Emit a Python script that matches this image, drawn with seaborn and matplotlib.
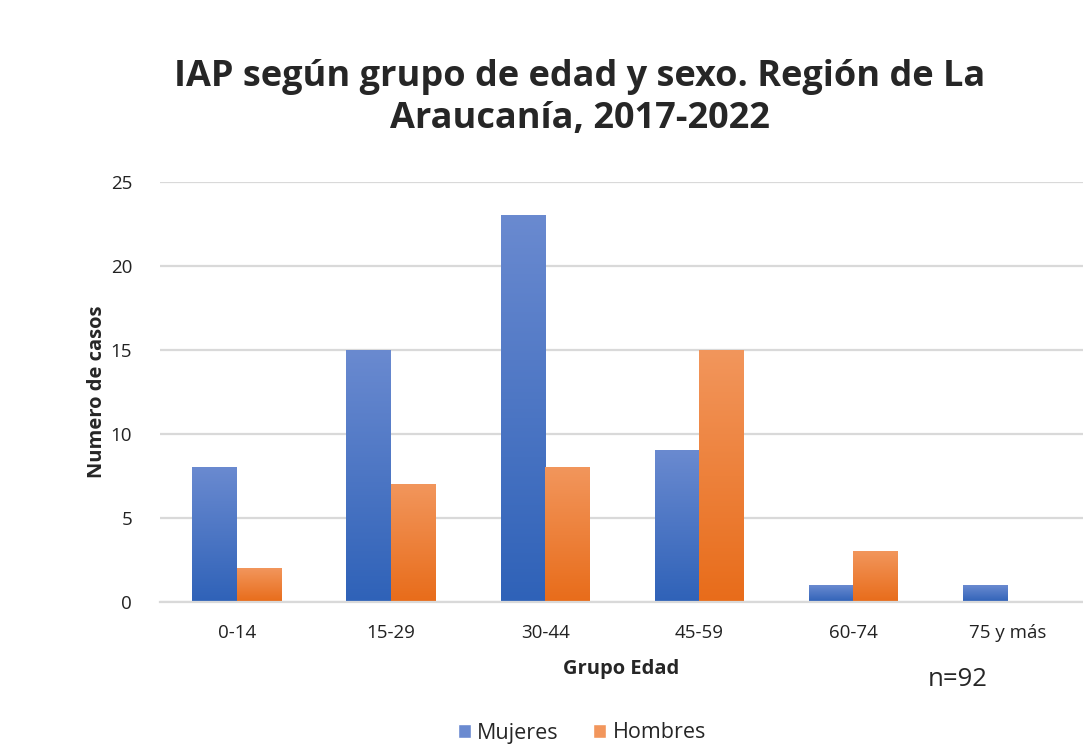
import numpy as np
import pandas as pd
import matplotlib
matplotlib.use("Agg")
import matplotlib.pyplot as plt
import matplotlib.colors as mcolors
from matplotlib.patches import Patch
import seaborn as sns

# datos
grupos = ["0-14", "15-29", "30-44", "45-59", "60-74", "75 y más"]
mujeres = [8, 15, 23, 9, 1, 1]
hombres = [2, 7, 8, 15, 3, 0]
series = ["Mujeres", "Hombres"]

df = pd.DataFrame({
    "Grupo": grupos * 2,
    "Casos": mujeres + hombres,
    "Sexo": ["Mujeres"] * len(grupos) + ["Hombres"] * len(grupos),
})

sns.set_style("white")
plt.rcParams["font.family"] = ["Open Sans", "DejaVu Sans"]

blue_top, blue_bot = "#6a8ad0", "#2f62b8"
orange_top, orange_bot = "#f2965c", "#e86c1a"

fig = plt.figure(figsize=(10.83, 7.47), dpi=100)
ax = fig.add_axes([160 / 1083, 145 / 747, 923 / 1083, 420 / 747])

sns.barplot(data=df, x="Grupo", y="Casos", hue="Sexo", order=grupos,
            hue_order=series, palette=[blue_bot, orange_bot], width=0.58,
            ax=ax, legend=False)

# degradado vertical en cada barra, como en Excel
grad = np.linspace(0, 1, 256).reshape(-1, 1)
cmaps = [mcolors.LinearSegmentedColormap.from_list("b", [blue_bot, blue_top]),
         mcolors.LinearSegmentedColormap.from_list("o", [orange_bot, orange_top])]
n = len(grupos)
for i, p in enumerate(ax.patches[:2 * n]):
    x0, y0 = p.get_x(), p.get_y()
    w, h = p.get_width(), p.get_height()
    if h <= 0:
        continue
    p.set_facecolor("none")
    p.set_edgecolor("none")
    ax.imshow(grad, extent=[x0, x0 + w, y0, y0 + h], origin="lower",
              cmap=cmaps[i // n], aspect="auto", zorder=2)

ax.set_xlim(-0.5, 5.49)
ax.set_ylim(0, 25)
ax.set_yticks(range(0, 26, 5))
ax.yaxis.grid(True, color="#d9d9d9", linewidth=1.6)
ax.set_axisbelow(True)
for s in ["top", "right", "left"]:
    ax.spines[s].set_visible(False)
ax.spines["bottom"].set_color("#d9d9d9")
ax.spines["bottom"].set_linewidth(1.6)
ax.tick_params(axis="both", length=0, labelsize=13.5, colors="#222222", pad=16)
ax.tick_params(axis="y", pad=20)

ax.set_xlabel("Grupo Edad", fontsize=14.5, fontweight="bold", labelpad=12)
ax.set_ylabel("Numero de casos", fontsize=14.5, fontweight="bold", labelpad=3)

fig.text(580 / 1083, 1 - 98 / 747,
         "IAP según grupo de edad y sexo. Región de La\nAraucanía, 2017-2022",
         ha="center", va="center", fontsize=26, fontweight="bold",
         linespacing=1.22)
fig.text(958 / 1083, 1 - 679 / 747, "n=92", ha="center", va="center",
         fontsize=18.5)

handles = [Patch(facecolor=blue_top, label="Mujeres"),
           Patch(facecolor=orange_top, label="Hombres")]
fig.legend(handles=handles, loc="center", bbox_to_anchor=(582 / 1083, 14 / 747),
           ncol=2, frameon=False, fontsize=15.5, handlelength=0.6,
           handleheight=0.6, handletextpad=0.3, columnspacing=1.6)

fig.savefig("out.png", dpi=100)
